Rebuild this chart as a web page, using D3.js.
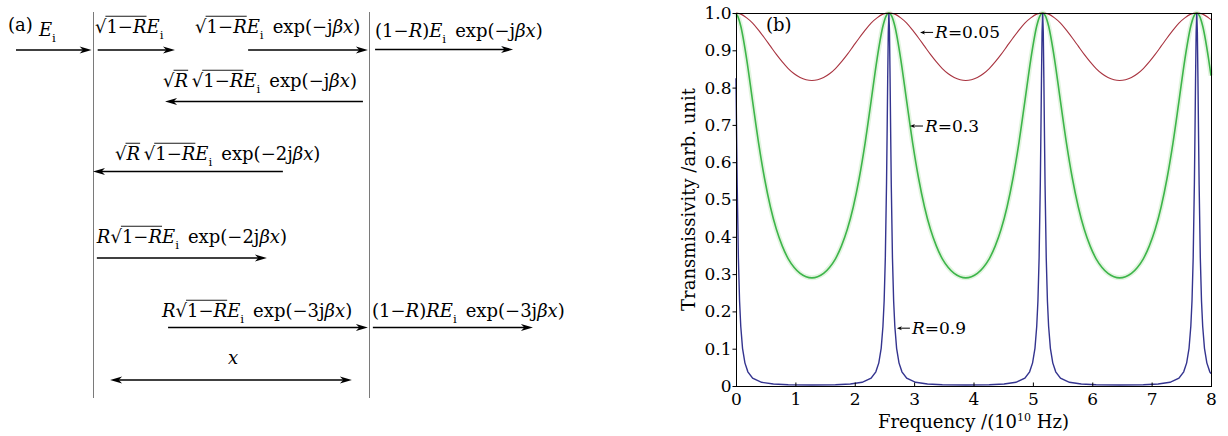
<!DOCTYPE html>
<html><head><meta charset="utf-8">
<script src="https://cdn.jsdelivr.net/npm/d3@7"></script>
<style>
html,body{margin:0;padding:0;background:#fff;}
svg{display:block;}
text{font-family:"DejaVu Serif",serif;fill:#000;}
</style></head><body>
<svg id="c" width="1228" height="436"></svg>
<script>
// ---------------- data (panel b) ----------------
const freqRG = [0,0.03,0.08,0.18,0.28,0.38,0.48,0.58,0.68,0.78,0.88,0.98,1.08,1.18,1.28,
 1.375,1.475,1.575,1.675,1.775,1.875,1.975,2.075,2.175,2.275,2.375,2.475,2.525,2.575,
 2.625,2.675,2.775,2.875,2.975,3.075,3.175,3.275,3.375,3.475,3.575,3.675,3.775,3.87,
 3.965,4.065,4.165,4.265,4.365,4.465,4.565,4.665,4.765,4.865,4.965,5.065,5.115,5.165,
 5.215,5.265,5.365,5.465,5.565,5.665,5.765,5.865,5.965,6.065,6.165,6.265,6.365,6.46,
 6.56,6.66,6.76,6.86,6.96,7.06,7.16,7.26,7.36,7.46,7.56,7.66,7.71,7.76,
 7.81,7.86,7.96,8.0];
const transR005 = [1.000,0.999,0.997,0.987,0.973,0.954,0.933,0.911,0.889,0.869,0.851,0.837,0.827,0.821,0.819,
 0.821,0.827,0.837,0.851,0.869,0.889,0.911,0.933,0.954,0.973,0.987,0.997,0.999,1.000,
 0.999,0.997,0.987,0.973,0.954,0.933,0.911,0.889,0.869,0.851,0.837,0.827,0.821,0.819,
 0.821,0.827,0.837,0.851,0.869,0.889,0.911,0.933,0.954,0.973,0.987,0.997,0.999,1.000,
 0.999,0.997,0.987,0.973,0.954,0.933,0.911,0.889,0.869,0.851,0.837,0.827,0.821,0.819,
 0.821,0.827,0.837,0.851,0.869,0.889,0.911,0.933,0.954,0.973,0.987,0.997,0.999,1.000,
 0.999,0.997,0.987,0.982];
const transR03 = [0.999,0.991,0.965,0.876,0.763,0.652,0.557,0.480,0.420,0.375,0.341,0.318,0.302,0.293,0.290,
 0.293,0.302,0.318,0.341,0.375,0.420,0.480,0.557,0.652,0.763,0.876,0.965,0.991,1.000,
 0.991,0.965,0.876,0.763,0.652,0.557,0.480,0.420,0.375,0.341,0.318,0.302,0.293,0.290,
 0.293,0.302,0.318,0.341,0.375,0.420,0.480,0.557,0.652,0.763,0.876,0.965,0.991,1.000,
 0.991,0.965,0.876,0.763,0.652,0.557,0.480,0.420,0.375,0.341,0.318,0.302,0.293,0.290,
 0.293,0.302,0.318,0.341,0.375,0.420,0.480,0.557,0.652,0.763,0.876,0.965,0.991,1.000,
 0.991,0.965,0.876,0.832];
const freqR09 = [0,0.01,0.02,0.04,0.06,0.08,0.11,0.15,0.20,0.28,0.43,0.63,0.88,1.28,
 1.675,1.925,2.125,2.275,2.355,2.405,2.445,2.475,2.495,2.515,2.535,2.545,2.555,2.565,2.575,
 2.585,2.595,2.605,2.615,2.635,2.655,2.675,2.705,2.745,2.795,2.875,3.025,3.225,3.475,3.87,
 4.265,4.515,4.715,4.865,4.945,4.995,5.035,5.065,5.085,5.105,5.125,5.135,5.145,5.155,5.165,
 5.175,5.185,5.195,5.205,5.225,5.245,5.265,5.295,5.335,5.385,5.465,5.615,5.815,6.065,6.46,
 6.86,7.11,7.31,7.46,7.54,7.59,7.63,7.66,7.68,7.70,7.72,7.73,7.74,7.75,7.76,
 7.77,7.78,7.79,7.80,7.82,7.84,7.86,7.89,7.93,7.98,8.0];
const transR09 = [0.825,0.677,0.541,0.344,0.228,0.160,0.101,0.062,0.038,0.021,0.010,0.0055,0.0035,0.0028,
 0.0035,0.0055,0.010,0.021,0.038,0.062,0.101,0.160,0.228,0.344,0.541,0.677,0.825,0.950,1.000,
 0.950,0.825,0.677,0.541,0.344,0.228,0.160,0.101,0.062,0.038,0.021,0.010,0.0055,0.0035,0.0028,
 0.0035,0.0055,0.010,0.021,0.038,0.062,0.101,0.160,0.228,0.344,0.541,0.677,0.825,0.950,1.000,
 0.950,0.825,0.677,0.541,0.344,0.228,0.160,0.101,0.062,0.038,0.021,0.010,0.0055,0.0035,0.0028,
 0.0035,0.0055,0.010,0.021,0.038,0.062,0.101,0.160,0.228,0.344,0.541,0.677,0.825,0.950,1.000,
 0.950,0.825,0.677,0.541,0.344,0.228,0.160,0.101,0.062,0.038,0.033];
const xTicks = [0,1,2,3,4,5,6,7,8];
const yTicks = [0,0.1,0.2,0.3,0.4,0.5,0.6,0.7,0.8,0.9,1.0];
const yTickLabels = ["0","0.1","0.2","0.3","0.4","0.5","0.6","0.7","0.8","0.9","1.0"];
const seriesNames = ["0.05","0.3","0.9"];
const seriesLabelFreq = [3.10, 2.93, 2.71];
const seriesLabelTrans = [0.948, 0.697, 0.155];

// ---------------- text (panel a) ----------------
const SP = "\u2002";
const labelA  = [["(a)","rm"]];
const labelEi = [["E","it"],["i","sub"]];
const labelT0 = [["√","rad"],["1−","ovrm"],["R","ovit"],["E","it"],["i","sub"]];
const labelT1 = [["√","rad"],["1−","ovrm"],["R","ovit"],["E","it"],["i","sub"],[SP+"exp(−j","rm"],["βx","it"],[")","rm"]];
const labelOut1 = [["(1−","rm"],["R","it"],[")","rm"],["E","it"],["i","sub"],[SP+"exp(−j","rm"],["βx","it"],[")","rm"]];
const labelRef1 = [["√","rad"],["R","ovit"],["\u2009","rm"],["√","rad"],["1−","ovrm"],["R","ovit"],["E","it"],["i","sub"],[SP+"exp(−j","rm"],["βx","it"],[")","rm"]];
const labelRef2 = [["√","rad"],["R","ovit"],["\u2009","rm"],["√","rad"],["1−","ovrm"],["R","ovit"],["E","it"],["i","sub"],[SP+"exp(−2j","rm"],["βx","it"],[")","rm"]];
const labelFwd2 = [["R","it"],["√","rad"],["1−","ovrm"],["R","ovit"],["E","it"],["i","sub"],[SP+"exp(−2j","rm"],["βx","it"],[")","rm"]];
const labelFwd3 = [["R","it"],["√","rad"],["1−","ovrm"],["R","ovit"],["E","it"],["i","sub"],[SP+"exp(−3j","rm"],["βx","it"],[")","rm"]];
const labelOut3 = [["(1−","rm"],["R","it"],[")","rm"],["R","it"],["E","it"],["i","sub"],[SP+"exp(−3j","rm"],["βx","it"],[")","rm"]];
const labelX = [["x","it"]];

// ---------------- layout ----------------
const svg = d3.select("#c");
const ga = svg.append("g");
const xa = d3.scaleLinear().domain([0,1]).range([93,369]);
const FS = 18;

[0,1].forEach(u => ga.append("line")
  .attr("x1", xa(u)+0.5).attr("x2", xa(u)+0.5).attr("y1", 12).attr("y2", 398)
  .attr("stroke","#7a7a7a").attr("stroke-width",1));

function arrowHead(g, tx, ty, dir, L, W) {
  g.append("path")
    .attr("d", `M${tx},${ty} L${tx-dir*L},${ty-W} L${tx-dir*L*0.72},${ty} L${tx-dir*L},${ty+W} Z`)
    .attr("fill","#000");
}
function drawArrow(g, x1, x2, y, both, sw, L, W) {
  const dir = x2 > x1 ? 1 : -1;
  const a = both ? x1 + dir*L*0.6 : x1;
  g.append("line").attr("x1", a).attr("x2", x2 - dir*L*0.6).attr("y1", y).attr("y2", y)
    .attr("stroke","#000").attr("stroke-width", sw);
  arrowHead(g, x2, y, dir, L, W);
  if (both) arrowHead(g, x1, y, -dir, L, W);
}

const diagramArrows = [
  {from:-0.279, to:-0.005, y:50},
  {from:0.017, to:0.297, y:50},
  {from:0.562, to:0.996, y:50},
  {from:1.022, to:1.522, y:49.5},
  {from:0.978, to:0.261, y:101.5},
  {from:0.688, to:0.000, y:171.5},
  {from:0.014, to:0.630, y:258},
  {from:0.272, to:0.996, y:327.5},
  {from:1.014, to:1.594, y:327.5},
  {from:0.062, to:0.938, y:380, both:true}
];
diagramArrows.forEach(a => drawArrow(ga, xa(a.from), xa(a.to), a.y, !!a.both, 1.6, 12, 3.6));

function drawMath(g, x0, y0, segs, fs) {
  let x = x0, ovStart = null, ovEnd = null;
  const flush = () => {
    if (ovStart !== null) {
      g.append("line").attr("x1", ovStart).attr("x2", ovEnd)
        .attr("y1", y0 - fs*0.93).attr("y2", y0 - fs*0.93)
        .attr("stroke","#000").attr("stroke-width",0.9);
      ovStart = null;
    }
  };
  segs.forEach(([t, st]) => {
    const sub = st === "sub";
    if (!st.startsWith("ov")) flush();
    const el = g.append("text")
      .attr("x", x).attr("y", y0 + (sub ? fs*0.36 : 0))
      .attr("font-size", sub ? fs*0.66 : fs)
      .attr("font-style", st.endsWith("it") ? "italic" : "normal")
      .text(t);
    const w = el.node().getComputedTextLength();
    if (st === "rad") { ovStart = x + w - 1; ovEnd = x + w; }
    if (st.startsWith("ov")) { if (ovStart === null) ovStart = x; ovEnd = x + w; }
    x += w;
  });
  flush();
}

const diagramLabels = [
  {segs: labelA, u:-0.308, y:31},
  {segs: labelEi, u:-0.196, y:36},
  {segs: labelT0, u:0.007, y:33},
  {segs: labelT1, u:0.370, y:33},
  {segs: labelOut1, u:1.022, y:37},
  {segs: labelRef1, u:0.254, y:87},
  {segs: labelRef2, u:0.080, y:160},
  {segs: labelFwd2, u:0.014, y:243},
  {segs: labelFwd3, u:0.250, y:317},
  {segs: labelOut3, u:1.011, y:317},
  {segs: labelX, u:0.489, y:364}
];
diagramLabels.forEach(l => drawMath(ga, xa(l.u), l.y, l.segs, FS));

// ---------------- panel b ----------------
const gb = svg.append("g");
const x = d3.scaleLinear().domain([0,8]).range([736,1211]);
const y = d3.scaleLinear().domain([0,1]).range([386,13]);

const lineRG = (vals) => d3.line().curve(d3.curveMonotoneX)
  .x((d,i) => x(freqRG[i])).y((d,i) => y(vals[i]))(vals);
const lineB = d3.line().x((d,i) => x(freqR09[i])).y((d,i) => y(transR09[i]));

gb.append("path").attr("d", lineRG(transR03)).attr("fill","none")
  .attr("stroke","#e3f4e0").attr("stroke-width",5);
gb.append("path").attr("d", lineRG(transR005)).attr("fill","none")
  .attr("stroke","#a8333f").attr("stroke-width",1.1);
gb.append("path").attr("d", lineRG(transR03)).attr("fill","none")
  .attr("stroke","#3db54a").attr("stroke-width",1.6);
gb.append("path").attr("d", lineB(transR09)).attr("fill","none")
  .attr("stroke","#34348f").attr("stroke-width",1.4);

// axes
const yAxis = d3.axisLeft(y).tickValues(yTicks).tickFormat((d,i) => yTickLabels[i])
  .tickSize(4).tickPadding(1);
const xAxis = d3.axisBottom(x).tickValues(xTicks).tickFormat(d3.format("d"))
  .tickSize(-4).tickPadding(6);
const gy = gb.append("g").attr("transform",`translate(${x(0)+0.5},0)`).call(yAxis);
const gx = gb.append("g").attr("transform",`translate(0,${y(0)+0.5})`).call(xAxis);
[gy, gx].forEach(g => {
  g.select(".domain").remove();
  g.selectAll("text").attr("font-family",'"DejaVu Serif",serif').attr("font-size",17).attr("fill","#000");
  g.selectAll("line").attr("stroke","#000");
});
gb.append("rect").attr("x", x(0)+0.5).attr("y", y(1)+0.5)
  .attr("width", x(8)-x(0)).attr("height", y(0)-y(1))
  .attr("fill","none").attr("stroke","#000").attr("stroke-width",1);

// axis titles
gb.append("text").attr("transform", `translate(695,${(y(0)+y(1))/2}) rotate(-90)`)
  .attr("text-anchor","middle").attr("font-size",18).text("Transmissivity /arb. unit");
const xt = gb.append("text").attr("x", (x(0)+x(8))/2).attr("y", 428)
  .attr("text-anchor","middle").attr("font-size",18);
xt.append("tspan").text("Frequency /(10");
xt.append("tspan").attr("dy",-7).attr("font-size",11).text("10");
xt.append("tspan").attr("dy",7).text(" Hz)");

gb.append("text").attr("x", 766).attr("y", 31).attr("font-size",18).text("(b)");

// series labels
seriesNames.forEach((n, i) => {
  const tx = x(seriesLabelFreq[i]), ty = y(seriesLabelTrans[i]);
  drawArrow(gb, tx + 13, tx, ty, false, 1, 5, 2);
  const t = gb.append("text").attr("x", tx + 15).attr("y", ty + 6).attr("font-size",17);
  t.append("tspan").attr("font-style","italic").text("R");
  t.append("tspan").text("=" + n);
});
</script>
</body></html>
